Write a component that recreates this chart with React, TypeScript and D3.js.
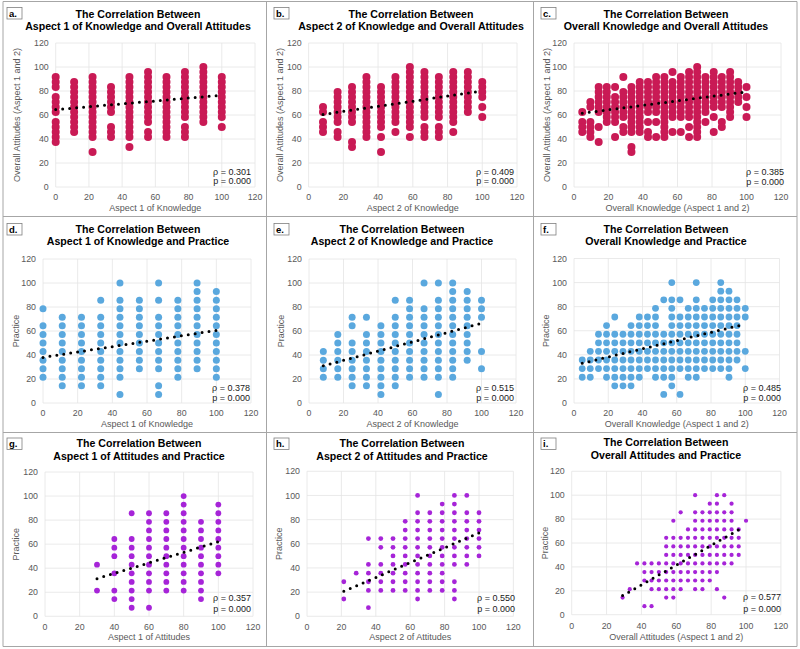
import React from 'react';
import * as d3 from 'd3';

const FONT = "'Liberation Sans', Arial, Helvetica, sans-serif";

// ---------- x category values ----------
const xKnow1 = [0, 11.1, 22.2, 33.3, 44.4, 55.6, 66.7, 77.8, 88.9, 100];
const xKnow2 = [8.3, 16.7, 25, 33.3, 41.7, 50, 58.3, 66.7, 75, 83.3, 91.7, 100];
const xKnowAll = [4.8, 9.5, 14.3, 19, 23.8, 28.6, 33.3, 38.1, 42.9, 47.6, 52.4, 57.1, 61.9, 66.7, 71.4, 76.2, 81, 85.7, 90.5, 95.2, 100];
const xAtt1 = [30, 40, 50, 60, 70, 80, 90, 100];
const xAtt2 = [21.4, 28.6, 35.7, 42.9, 50, 57.1, 64.3, 71.4, 78.6, 85.7, 92.9, 100];
const xAttAll = [29.2, 33.3, 37.5, 41.7, 45.8, 50, 54.2, 58.3, 62.5, 66.7, 70.8, 75, 79.2, 83.3, 87.5, 91.7, 95.8, 100];

// ---------- y values per x column ----------
const yA = [
  [91.7, 87.5, 83.3, 75, 70.8, 66.7, 62.5, 54.2, 50, 45.8, 41.7, 37.5],
  [87.5, 83.3, 79.2, 75, 70.8, 66.7, 62.5, 58.3, 54.2, 50, 45.8],
  [91.7, 87.5, 83.3, 79.2, 75, 70.8, 66.7, 62.5, 58.3, 54.2, 50, 45.8, 41.7, 29.2],
  [83.3, 79.2, 75, 70.8, 66.7, 62.5, 50, 45.8, 41.7],
  [91.7, 87.5, 83.3, 79.2, 75, 70.8, 66.7, 62.5, 58.3, 54.2, 50, 45.8, 41.7, 33.3],
  [95.8, 91.7, 87.5, 83.3, 79.2, 75, 70.8, 66.7, 62.5, 58.3, 54.2, 45.8, 41.7],
  [91.7, 87.5, 83.3, 79.2, 75, 70.8, 66.7, 62.5, 58.3, 54.2, 50, 45.8, 41.7],
  [95.8, 91.7, 87.5, 83.3, 79.2, 75, 70.8, 66.7, 62.5, 58.3, 50, 45.8, 41.7],
  [100, 95.8, 91.7, 87.5, 83.3, 79.2, 75, 70.8, 66.7, 62.5, 58.3, 54.2],
  [91.7, 87.5, 83.3, 79.2, 75, 70.8, 66.7, 62.5, 58.3, 50],
];
const yB = [
  [66.7, 62.5, 54.2, 50, 45.8],
  [79.2, 75, 70.8, 66.7, 62.5, 58.3, 54.2, 45.8, 41.7],
  [83.3, 79.2, 75, 70.8, 66.7, 62.5, 58.3, 54.2, 37.5, 33.3],
  [91.7, 87.5, 83.3, 79.2, 75, 70.8, 66.7, 62.5, 58.3, 54.2, 50, 45.8, 41.7],
  [83.3, 79.2, 75, 70.8, 66.7, 62.5, 58.3, 54.2, 50, 41.7, 29.2],
  [91.7, 87.5, 83.3, 79.2, 75, 70.8, 66.7, 62.5, 58.3, 54.2, 45.8],
  [100, 95.8, 91.7, 87.5, 83.3, 79.2, 75, 70.8, 66.7, 62.5, 58.3, 54.2, 50, 41.7],
  [95.8, 91.7, 87.5, 83.3, 79.2, 75, 70.8, 66.7, 62.5, 58.3, 50, 45.8, 41.7],
  [91.7, 87.5, 83.3, 79.2, 75, 70.8, 66.7, 62.5, 58.3, 50, 45.8, 41.7],
  [95.8, 91.7, 87.5, 83.3, 79.2, 75, 70.8, 66.7, 62.5, 58.3, 54.2, 45.8],
  [95.8, 91.7, 87.5, 83.3, 79.2, 75, 70.8, 66.7, 62.5],
  [87.5, 83.3, 79.2, 75, 66.7, 58.3],
];
const yC = [
  [62.5, 54.2, 50, 45.8],
  [70.8, 66.7, 54.2, 50, 45.8, 41.7],
  [83.3, 79.2, 75, 70.8, 66.7, 62.5, 50, 37.5],
  [83.3, 79.2, 75, 70.8, 66.7, 62.5, 58.3, 54.2],
  [83.3, 75, 70.8, 66.7, 62.5, 58.3, 54.2, 41.7],
  [91.7, 79.2, 75, 70.8, 66.7, 62.5, 58.3, 50, 45.8],
  [83.3, 79.2, 75, 70.8, 66.7, 62.5, 58.3, 54.2, 50, 45.8, 33.3, 29.2],
  [87.5, 83.3, 79.2, 75, 70.8, 66.7, 62.5, 58.3, 54.2, 50, 45.8],
  [87.5, 83.3, 79.2, 75, 70.8, 66.7, 62.5, 54.2, 45.8, 41.7],
  [91.7, 87.5, 83.3, 79.2, 75, 70.8, 66.7, 62.5, 54.2, 41.7],
  [91.7, 87.5, 83.3, 79.2, 75, 70.8, 66.7, 62.5, 58.3, 54.2, 50, 45.8, 41.7],
  [95.8, 87.5, 83.3, 79.2, 75, 70.8, 66.7, 62.5, 58.3, 45.8],
  [91.7, 87.5, 83.3, 79.2, 75, 70.8, 66.7, 62.5, 58.3, 45.8],
  [95.8, 91.7, 87.5, 83.3, 79.2, 75, 70.8, 66.7, 62.5, 58.3, 50, 41.7],
  [100, 95.8, 91.7, 87.5, 83.3, 79.2, 75, 70.8, 66.7, 62.5, 58.3, 54.2, 50, 45.8, 41.7],
  [91.7, 87.5, 83.3, 79.2, 75, 70.8, 66.7, 62.5, 54.2],
  [95.8, 91.7, 87.5, 83.3, 79.2, 75, 70.8, 66.7, 58.3, 45.8],
  [91.7, 87.5, 83.3, 79.2, 75, 70.8, 66.7, 54.2, 50],
  [95.8, 91.7, 87.5, 83.3, 79.2, 75, 70.8, 66.7, 62.5, 58.3],
  [87.5, 83.3, 79.2, 75, 70.8],
  [83.3, 75, 66.7, 58.3],
];
const yD = [
  [78.6, 64.3, 57.1, 50, 42.9, 35.7, 28.6, 21.4],
  [71.4, 64.3, 57.1, 50, 42.9, 35.7, 28.6, 21.4, 14.3],
  [71.4, 64.3, 57.1, 50, 42.9, 35.7, 28.6, 21.4, 14.3],
  [85.7, 71.4, 64.3, 57.1, 50, 42.9, 35.7, 28.6, 21.4, 14.3],
  [100, 85.7, 78.6, 71.4, 64.3, 57.1, 50, 42.9, 35.7, 28.6, 21.4, 7.1],
  [85.7, 78.6, 71.4, 64.3, 57.1, 50, 42.9, 35.7, 28.6],
  [100, 85.7, 71.4, 64.3, 57.1, 50, 42.9, 35.7, 28.6, 14.3, 7.1],
  [85.7, 78.6, 71.4, 64.3, 57.1, 50, 42.9, 35.7, 28.6, 21.4],
  [100, 92.9, 85.7, 78.6, 71.4, 64.3, 57.1, 50, 42.9, 35.7, 28.6],
  [92.9, 85.7, 78.6, 71.4, 64.3, 57.1, 50, 42.9, 35.7, 28.6, 21.4],
];
const yE = [
  [42.9, 35.7, 28.6, 21.4],
  [57.1, 50, 42.9, 35.7, 28.6, 21.4],
  [71.4, 64.3, 50, 42.9, 35.7, 28.6, 21.4, 14.3],
  [71.4, 57.1, 50, 42.9, 35.7, 28.6, 21.4, 14.3],
  [64.3, 57.1, 50, 42.9, 35.7, 28.6, 21.4, 14.3, 7.1],
  [85.7, 71.4, 64.3, 57.1, 50, 42.9, 35.7, 28.6, 21.4, 14.3],
  [85.7, 78.6, 71.4, 64.3, 57.1, 50, 42.9, 35.7, 28.6, 21.4],
  [100, 78.6, 71.4, 64.3, 57.1, 50, 42.9, 35.7, 28.6, 21.4],
  [100, 85.7, 78.6, 71.4, 64.3, 57.1, 50, 42.9, 35.7, 28.6, 21.4, 7.1],
  [100, 92.9, 85.7, 78.6, 71.4, 64.3, 57.1, 50, 42.9, 35.7, 28.6, 21.4],
  [92.9, 85.7, 78.6, 71.4, 64.3, 57.1, 50, 42.9, 35.7],
  [85.7, 78.6, 71.4, 42.9, 28.6],
];
const yF = [
  [35.7, 28.6, 21.4],
  [42.9, 35.7, 28.6, 21.4],
  [57.1, 50, 42.9, 35.7, 28.6],
  [64.3, 57.1, 50, 42.9, 35.7, 28.6, 21.4],
  [71.4, 57.1, 50, 42.9, 35.7, 28.6, 21.4, 14.3],
  [57.1, 50, 42.9, 35.7, 28.6, 21.4, 14.3],
  [64.3, 57.1, 50, 42.9, 35.7, 28.6, 21.4, 14.3],
  [71.4, 64.3, 57.1, 50, 42.9, 35.7, 28.6, 21.4],
  [71.4, 64.3, 57.1, 50, 42.9, 35.7, 28.6],
  [78.6, 71.4, 64.3, 57.1, 50, 42.9, 35.7, 28.6, 21.4],
  [85.7, 57.1, 50, 42.9, 35.7, 28.6, 21.4, 7.1],
  [100, 85.7, 78.6, 71.4, 64.3, 57.1, 50, 42.9, 35.7, 28.6, 21.4, 14.3],
  [85.7, 71.4, 64.3, 57.1, 50, 42.9, 35.7, 28.6, 7.1],
  [78.6, 71.4, 64.3, 57.1, 50, 42.9, 35.7, 28.6, 21.4],
  [100, 85.7, 78.6, 71.4, 64.3, 57.1, 50, 42.9, 35.7, 28.6, 21.4],
  [78.6, 71.4, 64.3, 57.1, 50, 42.9, 35.7, 28.6],
  [85.7, 78.6, 71.4, 64.3, 57.1, 50, 42.9, 35.7, 28.6],
  [100, 92.9, 85.7, 78.6, 71.4, 64.3, 57.1, 50, 42.9, 35.7, 28.6],
  [92.9, 85.7, 78.6, 71.4, 64.3, 57.1, 50, 42.9, 35.7, 28.6, 21.4],
  [85.7, 78.6, 71.4, 64.3, 57.1, 50, 42.9, 35.7],
  [78.6, 71.4, 42.9, 28.6],
];
const yG = [
  [42.9, 21.4],
  [64.3, 57.1, 50, 35.7, 21.4, 14.3],
  [85.7, 64.3, 57.1, 50, 42.9, 35.7, 28.6, 21.4, 14.3, 7.1],
  [85.7, 78.6, 71.4, 64.3, 57.1, 50, 42.9, 35.7, 28.6, 21.4, 7.1],
  [85.7, 78.6, 71.4, 64.3, 57.1, 50, 42.9, 35.7, 28.6, 21.4],
  [100, 92.9, 85.7, 78.6, 71.4, 64.3, 57.1, 50, 42.9, 35.7, 28.6, 21.4],
  [78.6, 71.4, 64.3, 57.1, 50, 42.9, 35.7, 28.6, 21.4, 14.3],
  [92.9, 85.7, 78.6, 71.4, 64.3, 57.1, 50, 42.9, 35.7],
];
const yH = [
  [28.6, 14.3],
  [35.7],
  [64.3, 42.9, 35.7, 28.6, 21.4, 7.1],
  [64.3, 57.1, 42.9, 35.7, 28.6, 21.4],
  [64.3, 57.1, 50, 42.9, 35.7, 28.6, 21.4],
  [78.6, 71.4, 64.3, 57.1, 50, 42.9, 35.7, 28.6, 21.4],
  [100, 85.7, 78.6, 71.4, 64.3, 57.1, 50, 42.9, 35.7, 28.6, 21.4, 14.3],
  [85.7, 78.6, 71.4, 64.3, 57.1, 50, 42.9, 35.7, 28.6, 21.4],
  [92.9, 85.7, 78.6, 71.4, 64.3, 57.1, 50, 42.9, 35.7, 28.6, 21.4],
  [100, 92.9, 85.7, 78.6, 71.4, 64.3, 57.1, 50, 42.9, 28.6, 21.4, 14.3],
  [100, 85.7, 78.6, 71.4, 64.3, 57.1, 50, 42.9],
  [85.7, 78.6, 71.4, 64.3, 57.1, 50],
];
const yI = [
  [14.3],
  [21.4],
  [42.9],
  [42.9, 35.7, 28.6, 7.1],
  [42.9, 35.7, 28.6, 21.4, 7.1],
  [42.9, 35.7, 28.6, 21.4],
  [64.3, 57.1, 50, 42.9, 35.7, 28.6, 21.4, 14.3],
  [78.6, 64.3, 57.1, 50, 42.9, 35.7, 28.6, 21.4, 14.3],
  [85.7, 64.3, 57.1, 50, 42.9, 35.7, 28.6, 21.4],
  [71.4, 64.3, 57.1, 50, 42.9, 35.7, 28.6],
  [100, 85.7, 78.6, 71.4, 64.3, 57.1, 50, 42.9, 35.7, 28.6, 21.4],
  [85.7, 78.6, 71.4, 64.3, 57.1, 50, 42.9, 35.7, 28.6, 21.4],
  [92.9, 85.7, 78.6, 71.4, 64.3, 57.1, 50, 42.9, 35.7, 28.6],
  [100, 92.9, 85.7, 78.6, 71.4, 64.3, 57.1, 50, 42.9, 35.7, 21.4],
  [100, 85.7, 78.6, 71.4, 64.3, 57.1, 50, 42.9, 14.3],
  [92.9, 85.7, 78.6, 71.4, 64.3, 57.1, 50, 42.9],
  [71.4, 64.3, 57.1, 50],
  [78.6],
];

// ---------- trendlines [x1, y1, x2, y2] and statistics ----------
const trendLines = [
  [0, 64.5, 100, 76.5],
  [8.3, 60.5, 100, 80],
  [4.8, 61.5, 98.5, 79],
  [0, 38, 100, 60.5],
  [8.3, 31, 99, 66],
  [4.8, 33, 100, 65.5],
  [30, 31.3, 100, 62],
  [21.4, 20.7, 100, 69],
  [29.2, 16, 97.5, 72.5],
];
const rhoValues = ['0.301', '0.409', '0.385', '0.378', '0.515', '0.485', '0.357', '0.550', '0.577'];
const pValues = ['0.000', '0.000', '0.000', '0.000', '0.000', '0.000', '0.000', '0.000', '0.000'];
const panelLabels = ['a.', 'b.', 'c.', 'd.', 'e.', 'f.', 'g.', 'h.', 'i.'];
const titleLines2 = [
  'Aspect 1 of Knowledge and Overall Attitudes',
  'Aspect 2 of Knowledge and Overall Attitudes',
  'Overall Knowledge and Overall Attitudes',
  'Aspect 1 of Knowledge and Practice',
  'Aspect 2 of Knowledge and Practice',
  'Overall Knowledge and Practice',
  'Aspect 1 of Attitudes and Practice',
  'Aspect 2 of Attitudes and Practice',
  'Overall Attitudes and Practice',
];
const xTitles = [
  'Aspect 1 of Knowledge', 'Aspect 2 of Knowledge', 'Overall Knowledge (Aspect 1 and 2)',
  'Aspect 1 of Knowledge', 'Aspect 2 of Knowledge', 'Overall Knowledge (Aspect 1 and 2)',
  'Aspect 1 of Attitudes', 'Aspect 2 of Attitudes', 'Overall Attitudes (Aspect 1 and 2)',
];
const yTitles = [
  'Overall Attitudes (Aspect 1 and 2)', 'Overall Attitudes (Aspect 1 and 2)', 'Overall Attitudes (Aspect 1 and 2)',
  'Practice', 'Practice', 'Practice', 'Practice', 'Practice', 'Practice',
];
const axisTicks = [0, 20, 40, 60, 80, 100, 120];

const xsList = [xKnow1, xKnow2, xKnowAll, xKnow1, xKnow2, xKnowAll, xAtt1, xAtt2, xAttAll];
const ysList = [yA, yB, yC, yD, yE, yF, yG, yH, yI];

// ---------- layout (panel-local) ----------
type Geom = { l: number; r: number; t: number; b: number; yTitleX: number; titleX: number; tY1: number; tY2: number; rhoX: number; rhoY1: number; rhoY2: number; xlabY: number; xtitleY: number };
const geoms: Geom[] = [
  { l: 55.7, r: 255, t: 43, b: 187, yTitleX: 17, titleX: 138, tY1: 14, tY2: 26, rhoX: 251, rhoY1: 172, rhoY2: 181, xlabY: 197, xtitleY: 208 },
  { l: 41.6, r: 250, t: 43, b: 187, yTitleX: 13, titleX: 144, tY1: 14, tY2: 26, rhoX: 247, rhoY1: 172, rhoY2: 181, xlabY: 197, xtitleY: 208 },
  { l: 40, r: 247, t: 43, b: 187, yTitleX: 13, titleX: 132, tY1: 14, tY2: 26, rhoX: 250, rhoY1: 172, rhoY2: 182, xlabY: 197, xtitleY: 208 },
  { l: 43, r: 251, t: 43, b: 187, yTitleX: 16, titleX: 138, tY1: 13, tY2: 25, rhoX: 250, rhoY1: 172, rhoY2: 182, xlabY: 197, xtitleY: 208 },
  { l: 42, r: 249, t: 43, b: 187, yTitleX: 14, titleX: 135, tY1: 13, tY2: 25, rhoX: 247, rhoY1: 172, rhoY2: 182, xlabY: 197, xtitleY: 208 },
  { l: 40, r: 245.5, t: 42.5, b: 187, yTitleX: 12, titleX: 132, tY1: 13, tY2: 25, rhoX: 247, rhoY1: 172, rhoY2: 182, xlabY: 197, xtitleY: 208 },
  { l: 45, r: 253, t: 40, b: 184.3, yTitleX: 16, titleX: 139, tY1: 11, tY2: 24, rhoX: 251, rhoY1: 166, rhoY2: 177, xlabY: 194.5, xtitleY: 204.5 },
  { l: 40, r: 246.4, t: 39.3, b: 184.3, yTitleX: 12, titleX: 135, tY1: 11, tY2: 24, rhoX: 248, rhoY1: 166, rhoY2: 177, xlabY: 194.5, xtitleY: 204.5 },
  { l: 37.7, r: 246.9, t: 39.3, b: 182.7, yTitleX: 11, titleX: 132, tY1: 10.5, tY2: 23.5, rhoX: 247, rhoY1: 165, rhoY2: 177, xlabY: 194, xtitleY: 204.5 },
];
const colors = ['#C91A55', '#C91A55', '#C91A55', '#5AA8DE', '#5AA8DE', '#5AA8DE', '#A624D8', '#A624D8', '#A624D8'];
const radii = [4, 4, 4, 3.5, 3.5, 3.4, 2.9, 2.4, 2.1];
const colX = [0, 267, 534];
const rowY = [0, 216, 432];

function Panel({ idx }: { idx: number }) {
  const g = geoms[idx];
  const x = d3.scaleLinear().domain([0, 120]).range([g.l, g.r]);
  const y = d3.scaleLinear().domain([0, 120]).range([g.b, g.t]);
  const xs = xsList[idx];
  const ys = ysList[idx];
  const pts: [number, number][] = [];
  xs.forEach((xv, i) => ys[i].forEach((yv) => pts.push([xv, yv])));
  const tl = trendLines[idx];
  const lineGen = d3.line<[number, number]>().x((d) => x(d[0])).y((d) => y(d[1]));
  const trendPath = lineGen([[tl[0], tl[1]], [tl[2], tl[3]]]) || '';
  const color = colors[idx];
  const r = radii[idx];
  const col = idx % 3;
  const row = Math.floor(idx / 3);
  const tickColor = '#595959';
  return (
    <g transform={`translate(${colX[col]},${rowY[row]})`}>
      {axisTicks.map((t) => (
        <line key={'h' + t} x1={g.l} x2={g.r} y1={y(t)} y2={y(t)} stroke="#e4e4e4" strokeWidth={0.8} />
      ))}
      {axisTicks.map((t) => (
        <line key={'v' + t} x1={x(t)} x2={x(t)} y1={g.t} y2={g.b} stroke="#e4e4e4" strokeWidth={0.8} />
      ))}
      {axisTicks.map((t) => (
        <text key={'yl' + t} x={g.l - 7} y={y(t)} dy="0.35em" textAnchor="end" fontSize={8.8} fill={tickColor} fontFamily={FONT}>{t}</text>
      ))}
      {axisTicks.map((t) => (
        <text key={'xl' + t} x={x(t)} y={g.xlabY} dy="0.35em" textAnchor="middle" fontSize={8.8} fill={tickColor} fontFamily={FONT}>{t}</text>
      ))}
      <text x={(g.l + g.r) / 2} y={g.xtitleY} dy="0.35em" textAnchor="middle" fontSize={9} fill={tickColor} fontFamily={FONT}>{xTitles[idx]}</text>
      <text transform={`translate(${g.yTitleX},${(g.t + g.b) / 2}) rotate(-90)`} dy="0.35em" textAnchor="middle" fontSize={9} fill={tickColor} fontFamily={FONT}>{yTitles[idx]}</text>
      {pts.map((p, i) => (
        <circle key={i} cx={x(p[0])} cy={y(p[1])} r={r} fill={color} />
      ))}
      <path d={trendPath} stroke="#000" strokeWidth={3} strokeDasharray="0 7" strokeLinecap="round" fill="none" />
      <text x={g.titleX} y={g.tY1} dy="0.35em" textAnchor="middle" fontSize={10.6} fontWeight="bold" fill="#000" fontFamily={FONT}>The Correlation Between</text>
      <text x={g.titleX} y={g.tY2} dy="0.35em" textAnchor="middle" fontSize={10.6} fontWeight="bold" fill="#000" fontFamily={FONT}>{titleLines2[idx]}</text>
      <text x={g.rhoX} y={g.rhoY1} dy="0.35em" textAnchor="end" fontSize={9} fill="#1a1a1a" fontFamily={FONT}>{`ρ = ${rhoValues[idx]}`}</text>
      <text x={g.rhoX} y={g.rhoY2} dy="0.35em" textAnchor="end" fontSize={9} fill="#1a1a1a" fontFamily={FONT}>{`p = ${pValues[idx]}`}</text>
      <rect x={7} y={row === 2 ? 6 : 7.5} width={15} height={11.5} fill="#fff" stroke="#7f7f7f" strokeWidth={0.8} />
      <text x={9} y={row === 2 ? 11.8 : 13.3} dy="0.35em" fontSize={9.5} fontWeight="bold" fill="#000" fontFamily={FONT}>{panelLabels[idx]}</text>
    </g>
  );
}

export default function App() {
  const vLines = [3, 266.5, 533.5, 797];
  const hLines = [1.5, 216.5, 432.5, 646.5];
  return (
    <svg width={800} height={649} style={{ position: 'absolute', left: 0, top: 0, background: '#fff' }}>
      <rect x={0} y={0} width={800} height={649} fill="#fff" />
      {d3.range(9).map((i) => <Panel key={i} idx={i} />)}
      {vLines.map((v) => <line key={'v' + v} x1={v} x2={v} y1={hLines[0]} y2={hLines[3]} stroke="#a6a6a6" strokeWidth={1} />)}
      {hLines.map((h) => <line key={'h' + h} x1={vLines[0]} x2={vLines[3]} y1={h} y2={h} stroke="#a6a6a6" strokeWidth={1} />)}
    </svg>
  );
}
